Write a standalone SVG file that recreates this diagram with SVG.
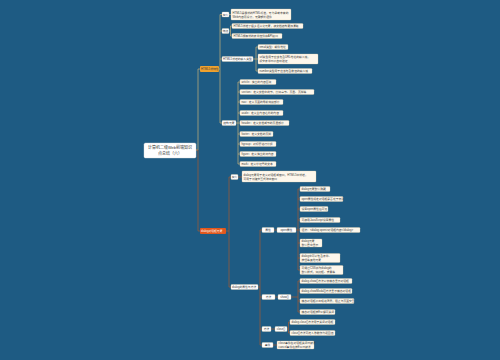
<svg xmlns="http://www.w3.org/2000/svg" width="500" height="360" viewBox="0 0 500 360">
<style>
text{font-family:"Liberation Sans","Noto Sans CJK SC",sans-serif;font-size:2.8px;fill:#3b3b3b}
.leaf{fill:#fdf7ec;stroke:#e3cfa8;stroke-width:0.3}
.lab{fill:#ffffff;stroke:#e3cfa8;stroke-width:0.3}
.root{fill:#ffffff;stroke:#d9d9d9;stroke-width:0.4}
.rt{font-size:4px;fill:#333}
.org{fill:#f0a22e}
.red{fill:#e2581d}
.wt{fill:#ffffff}
.co{fill:none;stroke:#c9b27a;stroke-width:0.7}
.cr{fill:none;stroke:#a85a32;stroke-width:0.7}
</style>
<rect width="500" height="360" fill="#1e5b83"/>
<g id="connectors">
<path class="co" d="M196,150H198V69H200M218,69H220V14.5H222M220,31H222M220,59H222M220,69V123H222M229,14.5H231M229,31H230.5V26H232M230.5,31V36H232M253,59H256V47H258M256,59H258M256,59V71H258M236,123H238V82H240M238,92H240M238,102H240M238,113H240M238,123H240M238,134H240M238,144H240M238,154H240M238,123V164H240"/>
<path class="cr" d="M196,150H198V231H200M226,231H229V177H231M229,231V287H231M238,177H242M258,287H260V230H262M260,287V345H262M260,297H262M260,329H262M274,230H277M296,230H298V189H300M298,199H300M298,209H300M298,220H300M298,230H300M298,230V270H300M298,243H300M298,258H300M275,297H278M291,297H298V281H300M298,291H300M298,301H300M298,297V312H300M271,329H275M287,329H288.5V322H290M288.5,329V333H290M273,345H277"/>
</g>
<g id="root"><rect class="root" x="144" y="143" width="52" height="15" rx="1.5"/><text class="rt" x="170" y="149.2" text-anchor="middle">计算机二级Web前端知识</text><text class="rt" x="170" y="155" text-anchor="middle">点总结（六）</text></g>
<g id="n-o1"><rect class="org" x="200" y="66" width="19" height="6" rx="1"/><text x="201" y="70">HTML5新特性</text></g>
<g id="n-a"><rect class="lab" x="222" y="12" width="7" height="5" rx="0.8"/><text x="222.8" y="15.5">简介</text></g>
<g id="n-a1"><rect class="leaf" x="231" y="9" width="60" height="11" rx="0.8"/><text x="232.5" y="13.5">HTML5是最新的HTML标准，专为承载丰富的</text><text x="232.5" y="17.5">Web内容而设计，无需额外插件</text></g>
<g id="n-b"><rect class="lab" x="222" y="28.5" width="7" height="5" rx="0.8"/><text x="222.8" y="32">特点</text></g>
<g id="n-b1"><rect class="leaf" x="232" y="23.5" width="71" height="5" rx="0.8"/><text x="233.5" y="27">HTML5新增了很多语义化元素，使文档结构更加清晰</text></g>
<g id="n-b2"><rect class="leaf" x="232" y="33.5" width="50" height="5" rx="0.8"/><text x="233.5" y="37">HTML5拥有新的表单控件和API接口</text></g>
<g id="n-c"><rect class="lab" x="222" y="56.5" width="31" height="5" rx="0.8"/><text x="223" y="60">HTML5新增的输入类型</text></g>
<g id="n-c1"><rect class="leaf" x="258" y="44.5" width="30" height="5" rx="0.8"/><text x="259.5" y="48">email类型：邮件地址</text></g>
<g id="n-c2"><rect class="leaf" x="258" y="54" width="60" height="10" rx="0.8"/><text x="259.5" y="58">url类型用于应该包含URL地址的输入域，</text><text x="259.5" y="62">提交表单时会自动验证</text></g>
<g id="n-c3"><rect class="leaf" x="258" y="68.5" width="54" height="5" rx="0.8"/><text x="259.5" y="72">number类型用于应该包含数值的输入域</text></g>
<g id="n-d"><rect class="lab" x="222" y="120.5" width="14" height="5" rx="0.8"/><text x="223.3" y="124">结构元素</text></g>
<g id="n-d1"><rect class="leaf" x="240" y="79.5" width="36" height="5" rx="0.8"/><text x="241.5" y="83">article：独立的内容区块</text></g>
<g id="n-d2"><rect class="leaf" x="240" y="89.5" width="74" height="5" rx="0.8"/><text x="241.5" y="93">section：定义文档中的节，比如章节、页眉、页脚等</text></g>
<g id="n-d3"><rect class="leaf" x="240" y="99.5" width="43" height="5" rx="0.8"/><text x="241.5" y="103">nav：定义页面的导航链接部分</text></g>
<g id="n-d4"><rect class="leaf" x="240" y="110.5" width="43" height="5" rx="0.8"/><text x="241.5" y="114">aside：定义主内容之外的内容</text></g>
<g id="n-d5"><rect class="leaf" x="240" y="120.5" width="49" height="5" rx="0.8"/><text x="241.5" y="124">header：定义文档或节的页眉部分</text></g>
<g id="n-d6"><rect class="leaf" x="240" y="131.5" width="33" height="5" rx="0.8"/><text x="241.5" y="135">footer：定义文档的页脚</text></g>
<g id="n-d7"><rect class="leaf" x="240" y="141.5" width="36" height="5" rx="0.8"/><text x="241.5" y="145">hgroup：对标题进行分组</text></g>
<g id="n-d8"><rect class="leaf" x="240" y="151.5" width="36" height="5" rx="0.8"/><text x="241.5" y="155">figure：定义独立的流内容</text></g>
<g id="n-d9"><rect class="leaf" x="240" y="161.5" width="36" height="5" rx="0.8"/><text x="241.5" y="165">mark：定义带记号的文本</text></g>
<g id="n-r1"><rect class="red" x="200" y="228" width="26" height="6" rx="1"/><text class="wt" x="201" y="232">dialog对话框元素</text></g>
<g id="n-e"><rect class="lab" x="231" y="174.5" width="7" height="5" rx="0.8"/><text x="231.8" y="178">简介</text></g>
<g id="n-e1"><rect class="leaf" x="242" y="171" width="74" height="11" rx="0.8"/><text x="243.5" y="175.5">dialog元素用于定义对话框或窗口，HTML5中新增，</text><text x="243.5" y="179.5">可用于创建交互式弹出窗口</text></g>
<g id="n-f"><rect class="lab" x="231" y="284.5" width="27" height="5" rx="0.8"/><text x="232" y="288">dialog的属性与方法</text></g>
<g id="n-g1"><rect class="lab" x="262" y="227.5" width="12" height="5" rx="0.8"/><text x="265.2" y="231">属性</text></g>
<g id="n-g1b"><rect class="lab" x="277" y="227.5" width="19" height="5" rx="0.8"/><text x="280.5" y="231">open属性</text></g>
<g id="n-g1c1"><rect class="leaf" x="300" y="186.5" width="30" height="5" rx="0.8"/><text x="301.5" y="190">dialog元素默认隐藏</text></g>
<g id="n-g1c2"><rect class="leaf" x="300" y="196.5" width="43" height="5" rx="0.8"/><text x="301.5" y="200">open属性规定对话框是否处于激活</text></g>
<g id="n-g1c3"><rect class="leaf" x="300" y="206.5" width="28" height="5" rx="0.8"/><text x="301.5" y="210">设置open属性后可见</text></g>
<g id="n-g1c4"><rect class="leaf" x="300" y="217.5" width="40" height="5" rx="0.8"/><text x="301.5" y="221">可使用JavaScript设置属性</text></g>
<g id="n-g1c5"><rect class="leaf" x="300" y="227.5" width="60" height="5" rx="0.8"/><text x="301.5" y="231">语法：&lt;dialog open&gt;对话框内容&lt;/dialog&gt;</text></g>
<g id="n-g1c6"><rect class="leaf" x="300" y="239" width="22" height="8" rx="0.8"/><text x="301.5" y="242.3">dialog元素</text><text x="301.5" y="245.6">默认居中显示</text></g>
<g id="n-g1c7"><rect class="leaf" x="300" y="253.5" width="40" height="9" rx="0.8"/><text x="301.5" y="257.2">dialog中可以包含表单、</text><text x="301.5" y="260.8">按钮等其他元素</text></g>
<g id="n-g1c8"><rect class="leaf" x="300" y="265.5" width="43" height="9" rx="0.8"/><text x="301.5" y="269.2">可通过CSS修改dialog的</text><text x="301.5" y="272.8">默认样式，如边框、背景等</text></g>
<g id="n-g2"><rect class="lab" x="262" y="294.5" width="13" height="5" rx="0.8"/><text x="265.7" y="298">方法</text></g>
<g id="n-g2b"><rect class="lab" x="278" y="294.5" width="13" height="5" rx="0.8"/><text x="280.3" y="298">show()</text></g>
<g id="n-g2c1"><rect class="leaf" x="300" y="278.5" width="52" height="5" rx="0.8"/><text x="301.5" y="282">dialog.show()方法以非模态显示对话框</text></g>
<g id="n-g2c2"><rect class="leaf" x="300" y="288.5" width="52" height="5" rx="0.8"/><text x="301.5" y="292">dialog.showModal()方法显示模态对话框</text></g>
<g id="n-g2c3"><rect class="leaf" x="300" y="298.5" width="54" height="5" rx="0.8"/><text x="301.5" y="302">模态对话框会出现遮罩层，阻止与页面交互</text></g>
<g id="n-g2c4"><rect class="leaf" x="300" y="309.5" width="35" height="5" rx="0.8"/><text x="301.5" y="313">模态对话框按Esc键可关闭</text></g>
<g id="n-g3"><rect class="lab" x="262" y="326.5" width="9" height="5" rx="0.8"/><text x="263.7" y="330">方法</text></g>
<g id="n-g3b"><rect class="lab" x="275" y="326.5" width="12" height="5" rx="0.8"/><text x="276.8" y="330">close()</text></g>
<g id="n-g3c1"><rect class="leaf" x="290" y="319.5" width="45" height="5" rx="0.8"/><text x="291.5" y="323">dialog.close()方法用于关闭对话框</text></g>
<g id="n-g3c2"><rect class="leaf" x="290" y="330.5" width="45" height="5" rx="0.8"/><text x="291.5" y="334">close()方法可传入参数作为返回值</text></g>
<g id="n-g4"><rect class="lab" x="262" y="342.5" width="11" height="5" rx="0.8"/><text x="264.7" y="346">事件</text></g>
<g id="n-g4b"><rect class="leaf" x="277" y="341" width="37" height="8" rx="0.8"/><text x="278.5" y="344.3">close事件在对话框关闭时触发</text><text x="278.5" y="347.6">cancel事件在按Esc时触发</text></g>
</svg>
